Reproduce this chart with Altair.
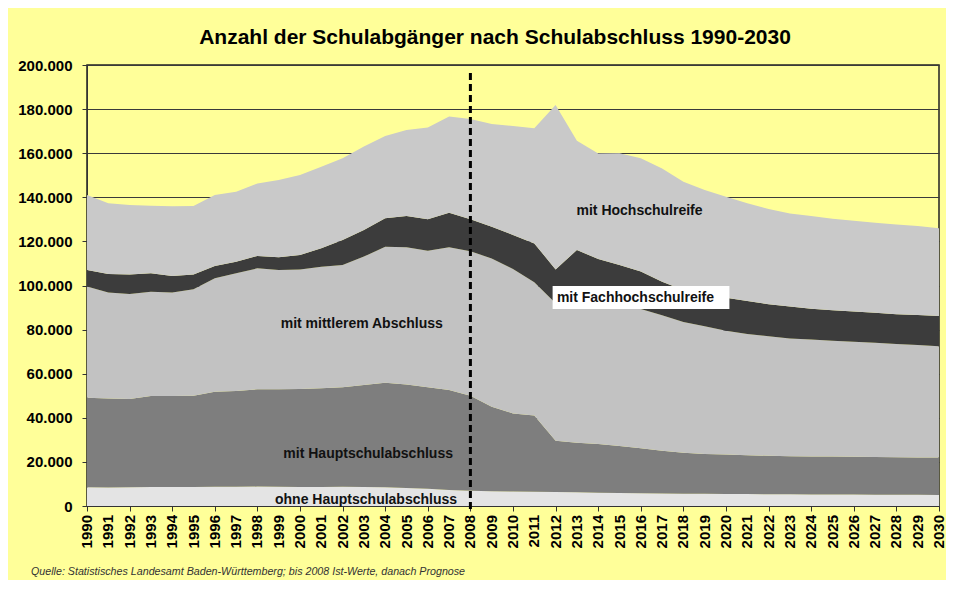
import altair as alt
import pandas as pd

# ---- data (values in thousands) ----
years = list(range(1990, 2031))

ohne = [8.5, 8.4, 8.5, 8.6, 8.6, 8.6, 8.7, 8.7, 8.8, 8.7, 8.6, 8.6, 8.7, 8.6, 8.5, 8.2, 7.8, 7.3, 6.9, 6.7,
        6.6, 6.5, 6.3, 6.2, 6.0, 5.9, 5.8, 5.7, 5.6, 5.5, 5.4, 5.4, 5.3, 5.3, 5.2, 5.2, 5.2, 5.1, 5.1, 5.1, 5.0]
haupt = [40.6, 40.3, 40.0, 41.3, 41.3, 41.4, 43.1, 43.5, 44.1, 44.2, 44.5, 44.8, 45.1, 46.3, 47.4, 46.9, 46.0,
         45.3, 43.1, 38.3, 35.4, 34.5, 23.3, 22.5, 22.1, 21.3, 20.4, 19.4, 18.6, 18.1, 17.9, 17.6, 17.5, 17.3,
         17.3, 17.2, 17.1, 17.1, 17.0, 16.9, 17.0]
mittel = [50.4, 48.1, 47.6, 47.3, 46.9, 48.3, 51.5, 53.3, 54.9, 54.1, 54.1, 55.1, 55.5, 58.2, 61.7, 62.3, 62.0,
          64.8, 65.5, 67.3, 65.5, 60.5, 62.4, 62.8, 62.9, 63.1, 63.1, 61.4, 59.3, 57.9, 56.2, 55.0, 54.2, 53.4,
          53.0, 52.6, 52.2, 51.8, 51.4, 51.0, 50.5]
fhr = [7.5, 8.4, 8.9, 8.3, 7.5, 6.7, 5.5, 5.3, 5.6, 5.8, 6.6, 8.4, 11.3, 12.1, 12.9, 14.1, 14.2, 15.6, 14.5,
       14.4, 15.4, 17.6, 15.3, 24.6, 21.0, 19.0, 17.0, 15.2, 14.5, 14.7, 15.0, 15.0, 14.5, 14.5, 14.0, 13.8,
       13.7, 13.6, 13.5, 13.6, 13.7]
hsr = [34.0, 32.1, 31.5, 30.7, 31.6, 31.0, 32.2, 31.7, 32.9, 35.0, 36.3, 37.0, 37.1, 37.8, 37.3, 39.0, 41.7,
       43.6, 45.5, 46.5, 49.4, 52.2, 74.6, 49.6, 47.9, 50.7, 51.4, 51.4, 49.1, 47.1, 45.8, 44.3, 43.2, 42.2,
       42.0, 41.5, 41.2, 40.9, 40.7, 40.4, 39.8]

categories = ["ohne Hauptschulabschluss", "mit Hauptschulabschluss", "mit mittlerem Abschluss",
              "mit Fachhochschulreife", "mit Hochschulreife"]
series = [ohne, haupt, mittel, fhr, hsr]
colors = ["#e4e4e4", "#7e7e7e", "#c2c2c2", "#3c3c3c", "#c9c9c9"]

y_ticks = list(range(0, 200001, 20000))

# label annotations (text, year position, value position)
label_text = ["mit Hochschulreife", "mit Fachhochschulreife", "mit mittlerem Abschluss",
              "mit Hauptschulabschluss", "ohne Hauptschulabschluss"]
label_year = [2015.94, 2015.75, 2002.9, 2003.2, 2003.1]
label_value = [133800, 94300, 82400, 23400, 2700]

rows = []
for i, (cat, vals) in enumerate(zip(categories, series)):
    for y, v in zip(years, vals):
        rows.append({"Jahr": y, "Abschluss": cat, "Wert": v * 1000, "ord": i})
df = pd.DataFrame(rows)

FONT = "Liberation Sans"
W, H = 852, 441

x_scale = alt.Scale(domain=[1990, 2030], nice=False, zero=False)
y_scale = alt.Scale(domain=[0, 200000], nice=False)

areas = alt.Chart(df).mark_area(interpolate="linear").encode(
    x=alt.X("Jahr:Q", scale=x_scale,
            axis=alt.Axis(values=years, labels=False, title=None, grid=False,
                          tickSize=5, tickColor="#333", domainColor="#333")),
    y=alt.Y("Wert:Q", stack="zero", scale=y_scale,
            axis=alt.Axis(values=y_ticks, title=None, grid=True, gridColor="#3a3a3a", gridWidth=1,
                          labelExpr="replace(format(datum.value, ',.0f'), ',', '.')",
                          labelFont=FONT, labelFontSize=15, labelFontWeight="bold", labelColor="black",
                          tickSize=5, tickColor="#333", domainColor="#333", labelPadding=10)),
    color=alt.Color("Abschluss:N", scale=alt.Scale(domain=categories, range=colors), legend=None),
    order=alt.Order("ord:Q", sort="ascending"),
)

# year labels (rotated), placed through the x scale
year_df = pd.DataFrame({"Jahr": years, "lab": [str(y) for y in years]})
year_labels = alt.Chart(year_df).mark_text(
    font=FONT, fontSize=15, fontWeight="bold", color="black",
    angle=270, align="right", baseline="middle").encode(
    x=alt.X("Jahr:Q", scale=x_scale), y=alt.value(H + 9), text="lab:N")

box_df = pd.DataFrame({"x": [2011.86], "x2": [2020.16], "y": [89300], "y2": [99800]})
box = alt.Chart(box_df).mark_rect(color="white").encode(
    x=alt.X("x:Q", scale=x_scale), x2="x2:Q",
    y=alt.Y("y:Q", scale=y_scale), y2="y2:Q")

lab_df = pd.DataFrame({"t": label_text, "x": label_year, "y": label_value})
labels = alt.Chart(lab_df).mark_text(font=FONT, fontSize=14, fontWeight="bold", color="#111").encode(
    x=alt.X("x:Q", scale=x_scale), y=alt.Y("y:Q", scale=y_scale), text="t:N")

rule_df = pd.DataFrame({"x": [2008], "y": [196400]})
rule = alt.Chart(rule_df).mark_rule(color="black", strokeWidth=3, strokeDash=[7, 4]).encode(
    x=alt.X("x:Q", scale=x_scale), y=alt.Y("y:Q", scale=y_scale), y2=alt.value(H + 7))

src_df = pd.DataFrame({"t": ["Quelle: Statistisches Landesamt Baden-Württemberg; bis 2008 Ist-Werte, danach Prognose"]})
source = alt.Chart(src_df).mark_text(font=FONT, fontSize=10.7, fontStyle="italic", color="#333",
                                     align="left", baseline="middle").encode(
    x=alt.value(-56), y=alt.value(H + 66), text="t:N")

chart = alt.layer(areas, box, labels, rule, year_labels, source).properties(
    width=W, height=H,
    background="#ffff99",
    padding={"left": 79, "top": 57, "right": 7, "bottom": 74},
    autosize=alt.AutoSizeParams(type="none"),
    title=alt.TitleParams("Anzahl der Schulabgänger nach Schulabschluss 1990-2030",
                          font=FONT, fontSize=21, fontWeight="bold", color="black",
                          anchor="middle", dx=-18, offset=10),
).configure_view(stroke="#222", strokeWidth=1.5)

chart.save("out.html", embed_options={"renderer": "svg", "actions": False})
